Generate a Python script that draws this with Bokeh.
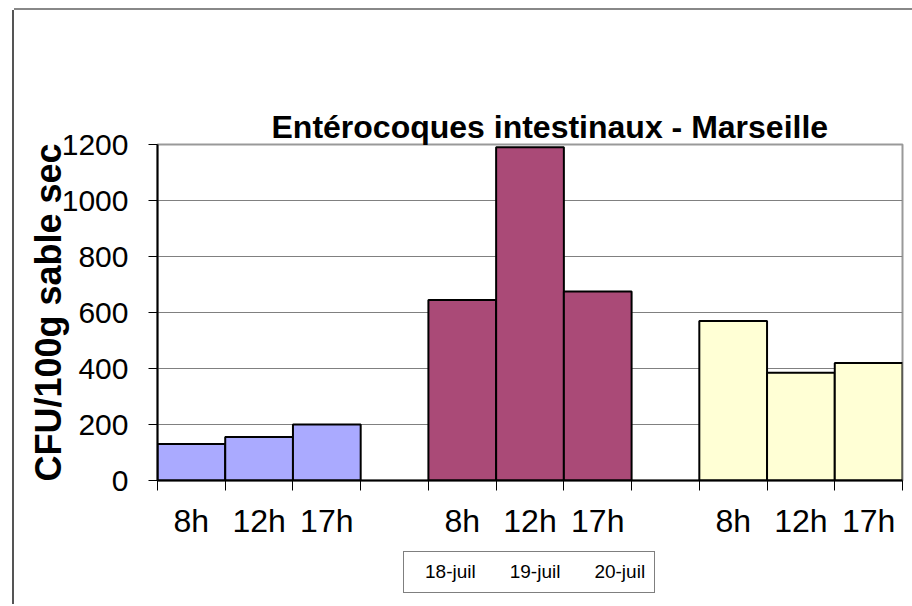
from bokeh.plotting import figure
from bokeh.layouts import column
from bokeh.models import (ColumnDataSource, Range1d, FixedTicker, Legend, LegendItem,
                          Title)
from bokeh.embed import file_html
from bokeh.resources import INLINE

# ---- data ----
dates = ["18-juil", "19-juil", "20-juil"]
hours = ["8h", "12h", "17h"]
counts_18 = [130, 155, 200]
counts_19 = [645, 1190, 675]
counts_20 = [570, 385, 420]
colors = ["#AAAAFF", "#AA4A77", "#FFFFD5"]
y_ticks = [0, 200, 400, 600, 800, 1000, 1200]
title_text = "Entérocoques intestinaux - Marseille"
y_label_text = "CFU/100g sable sec"

series = [counts_18, counts_19, counts_20]
n_slot = len(hours) + 1
n_total = len(dates) * n_slot - 1

p = figure(width=898, height=535, output_backend="svg", toolbar_location=None,
           x_range=Range1d(0, n_total), y_range=Range1d(0, 1200),
           min_border_left=143, min_border_right=10, min_border_top=134,
           min_border_bottom=65)
p.border_fill_color = "white"
p.background_fill_color = "white"
p.outline_line_color = "#999999"
p.outline_line_width = 2

# invisible spacer between frame and title (panels stack outward from the frame)
p.add_layout(Title(text=".", text_alpha=0, text_font_size="2px", standoff=58), "above")

# title
p.title.text = title_text
p.title.text_font = "Liberation Sans"
p.title.text_font_style = "bold"
p.title.text_font_size = "32px"
p.title.text_color = "black"
p.title.align = "left"
p.title.offset = 114
p.title.standoff = 0

# legend figure (legend lives below the chart, outside the main frame)
p_leg = figure(width=898, height=59, output_backend="svg", toolbar_location=None,
               x_range=Range1d(0, n_total), y_range=Range1d(0, 1),
               x_axis_location=None, y_axis_location=None,
               min_border_left=0, min_border_right=0, min_border_top=0,
               min_border_bottom=0)
p_leg.outline_line_color = None
p_leg.border_fill_color = "white"
p_leg.background_fill_color = "white"
p_leg.xgrid.grid_line_color = None
p_leg.ygrid.grid_line_color = None

items = []
centers = []
labels = {}
for g, (d, vals, c) in enumerate(zip(dates, series, colors)):
    xs = [g * n_slot + h + 0.5 for h in range(len(hours))]
    centers += xs
    for x, hl in zip(xs, hours):
        labels[x] = hl
    src = ColumnDataSource(dict(x=xs, top=vals))
    p.vbar(x="x", top="top", width=1.0, source=src, fill_color=c,
           line_color="black", line_width=2)
    # legend-only renderer (no data drawn)
    r2 = p_leg.vbar(x="x", top="top", width=1.0,
                    source=ColumnDataSource(dict(x=[], top=[])), fill_color=c,
                    line_color="black", line_width=2)
    items.append(LegendItem(label=d, renderers=[r2]))

# x axis
p.xaxis.ticker = FixedTicker(ticks=centers, minor_ticks=list(range(0, n_total + 1)))
p.xaxis.major_label_overrides = {float(k): v for k, v in labels.items()}
p.xaxis.major_tick_out = 0
p.xaxis.major_tick_in = 0
p.xaxis.minor_tick_out = 10
p.xaxis.minor_tick_in = 0
p.xaxis.minor_tick_line_color = "black"
p.xaxis.axis_line_color = "black"
p.xaxis.axis_line_width = 2
p.xaxis.major_label_text_font = "Liberation Sans"
p.xaxis.major_label_text_font_size = "32px"
p.xaxis.major_label_text_color = "black"
p.xaxis.major_label_standoff = 12

# y axis
p.yaxis.ticker = FixedTicker(ticks=y_ticks)
p.yaxis.minor_tick_line_color = None
p.yaxis.major_tick_out = 9
p.yaxis.major_tick_in = 0
p.yaxis.major_tick_line_color = "black"
p.yaxis.axis_line_color = "black"
p.yaxis.axis_line_width = 2
p.yaxis.major_label_text_font = "Liberation Sans"
p.yaxis.major_label_text_font_size = "30px"
p.yaxis.major_label_text_color = "black"
p.yaxis.major_label_standoff = 20
p.yaxis.axis_label = y_label_text
p.yaxis.axis_label_text_font = "Liberation Sans"
p.yaxis.axis_label_text_font_style = "bold"
p.yaxis.axis_label_text_font_size = "36px"
p.yaxis.axis_label_text_color = "black"
p.yaxis.axis_label_standoff = -10

p.xgrid.grid_line_color = None
p.ygrid.grid_line_color = "#808080"
p.ygrid.grid_line_width = 1

legend = Legend(items=items, orientation="horizontal", location=(246, 11),
                label_text_font="Liberation Sans", label_text_font_size="19px",
                label_text_color="black",
                glyph_width=9, glyph_height=9, label_standoff=3, spacing=22,
                padding=9, margin=0, border_line_color="black", border_line_width=1,
                background_fill_alpha=1)
p_leg.add_layout(legend, "center")

layout = column(p, p_leg, spacing=0,
                styles={"position": "relative", "left": "14px", "top": "10px",
                        "box-shadow": "-2px 0px 0px 0px #555555, 0px -2px 0px 0px #888888"})

open("out.html", "w").write(file_html(layout, INLINE))
